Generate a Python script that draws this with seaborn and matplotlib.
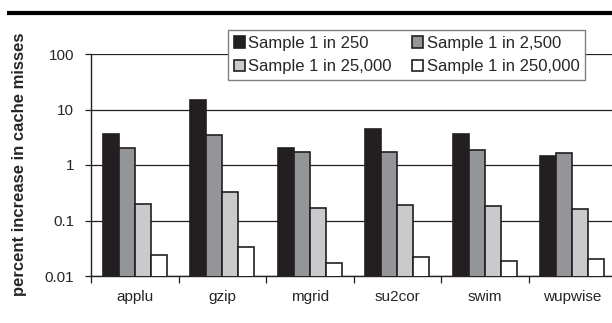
import matplotlib
matplotlib.use("Agg")
import matplotlib.pyplot as plt
import matplotlib.ticker as mticker
from matplotlib.lines import Line2D
import pandas as pd
import seaborn as sns

# benchmarks and sampling rates
benchmarks = ["applu", "gzip", "mgrid", "su2cor", "swim", "wupwise"]
rates = ["Sample 1 in 250", "Sample 1 in 2,500", "Sample 1 in 25,000", "Sample 1 in 250,000"]

# percent increase in cache misses, one list per sampling rate
s250 = [3.56, 14.9, 2.06, 4.44, 3.67, 1.45]
s2500 = [2.02, 3.42, 1.71, 1.71, 1.89, 1.62]
s25000 = [0.202, 0.333, 0.166, 0.192, 0.181, 0.162]
s250000 = [0.0239, 0.0336, 0.0169, 0.0217, 0.0188, 0.0200]

colors = ["#231f20", "#939598", "#c9cacc", "#ffffff"]

rows = []
for rate, vals in zip(rates, [s250, s2500, s25000, s250000]):
    for b, v in zip(benchmarks, vals):
        rows.append({"benchmark": b, "rate": rate, "value": v})
df = pd.DataFrame(rows)

sns.set_style("white")
plt.rcParams["font.family"] = ["Liberation Sans", "DejaVu Sans"]

fig = plt.figure(figsize=(6.12, 3.23), dpi=100)
ax = fig.add_axes([91 / 612, 1 - 276 / 323, 525 / 612, 222 / 323])

sns.barplot(data=df, x="benchmark", y="value", hue="rate", order=benchmarks,
            hue_order=rates, palette=colors, width=0.73, edgecolor="#231f20",
            linewidth=1.2, saturation=1, ax=ax, legend=True, zorder=3)

ax.set_yscale("log")
ax.set_ylim(0.01, 100)
ax.set_xlim(-0.5, len(benchmarks) - 0.5)

yt = [0.01, 0.1, 1, 10, 100]
ax.yaxis.set_major_locator(mticker.FixedLocator(yt))
ax.yaxis.set_major_formatter(mticker.FixedFormatter(["0.01", "0.1", "1", "10", "100"]))
ax.yaxis.set_minor_locator(mticker.NullLocator())
ax.grid(axis="y", color="#231f20", linewidth=0.9, zorder=0)
ax.set_axisbelow(True)

# tick marks between groups, labels at group centres
ax.xaxis.set_major_locator(mticker.FixedLocator([i - 0.5 for i in range(len(benchmarks) + 1)]))
ax.xaxis.set_major_formatter(mticker.NullFormatter())
ax.xaxis.set_minor_locator(mticker.FixedLocator(range(len(benchmarks))))
ax.xaxis.set_minor_formatter(mticker.FixedFormatter(benchmarks))
ax.tick_params(axis="x", which="major", direction="out", length=5, width=0.9, color="#231f20", bottom=True)
ax.tick_params(axis="x", which="minor", length=0, pad=10, labelsize=11)
ax.tick_params(axis="y", direction="out", length=4, width=0.9, color="#231f20", left=True, labelsize=11, pad=8)

for side in ["top", "right"]:
    ax.spines[side].set_visible(False)
for side in ["left", "bottom"]:
    ax.spines[side].set_color("#231f20")
    ax.spines[side].set_linewidth(1.0)

ax.set_xlabel("")
ax.set_ylabel("")
fig.text(20 / 612, 1 - 164 / 323, "percent increase in cache misses", rotation=90,
         ha="center", va="center", fontsize=12, fontweight="bold")

handles, labels = ax.get_legend_handles_labels()
ax.get_legend().remove()
order = [0, 2, 1, 3]
leg = fig.legend([handles[i] for i in order], [labels[i] for i in order], ncol=2,
                 loc="upper left", bbox_to_anchor=(228 / 612, 1 - 30 / 323),
                 bbox_transform=fig.transFigure, fontsize=12, frameon=True,
                 fancybox=False, edgecolor="#808080", framealpha=1,
                 handlelength=0.65, handleheight=0.65, handletextpad=0.2,
                 columnspacing=1.25, borderpad=0.35, labelspacing=0.5,
                 borderaxespad=0)
leg.get_frame().set_linewidth(1.0)

# thick rule across the top
top_rule = Line2D([7 / 612, 1], [1 - 13 / 323, 1 - 13 / 323], color="black",
                  linewidth=3, solid_capstyle="butt", transform=fig.transFigure)
fig.add_artist(top_rule)

fig.savefig("out.png", dpi=100)
